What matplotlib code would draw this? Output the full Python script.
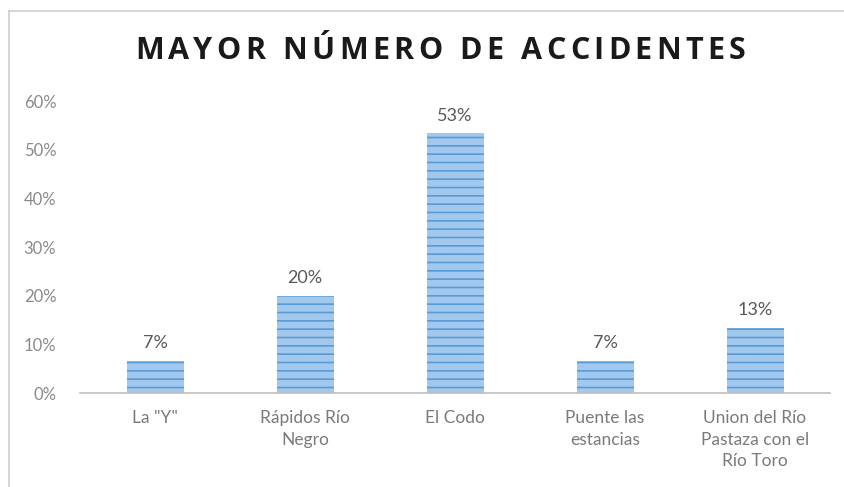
import matplotlib
matplotlib.use("Agg")
from matplotlib import pyplot as plt
from matplotlib.lines import Line2D

categories = ['La "Y"', 'Rápidos Río\nNegro', 'El Codo', 'Puente las\nestancias', 'Union del Río\nPastaza con el\nRío Toro']
values = [6.67, 20.0, 53.33, 6.67, 13.33]
labels = ['7%', '20%', '53%', '7%', '13%']
yticks = [0, 10, 20, 30, 40, 50, 60]
title = 'MAYOR NÚMERO DE ACCIDENTES'

plt.rcParams['font.family'] = ['Lato', 'DejaVu Sans']
plt.rcParams['hatch.linewidth'] = 1.2

W, H = 844, 487
fig = plt.figure(figsize=(W/100, H/100), dpi=100)
ax = fig.add_axes([80/W, 1-393/H, 750/W, 292/H])

x = range(len(categories))
bars = ax.bar(x, values, width=0.38, color='#a3c8ee', edgecolor='#5b9bd5',
              hatch='--', linewidth=0)
for b, lab in zip(bars, labels):
    ax.text(b.get_x() + b.get_width()/2, b.get_height() + 2.0, lab,
            ha='center', va='bottom', fontsize=13, color='#595959')

ax.set_xlim(-0.5, len(categories) - 0.5)
ax.set_ylim(0, 60)
ax.set_yticks(yticks)
ax.set_yticklabels([f'{t}%' for t in yticks], fontsize=12, color='#8a8a8a')
ax.set_xticks(list(x))
ax.set_xticklabels(categories, fontsize=12.5, color='#7a7a7a', linespacing=1.45, va='top')
ax.tick_params(axis='x', length=0, pad=12)
ax.tick_params(axis='y', length=0, pad=17)
for s in ['top', 'right', 'left']:
    ax.spines[s].set_visible(False)
ax.spines['bottom'].set_color('#bfbfbf')
ax.spines['bottom'].set_linewidth(1.2)

# title with letter spacing: place characters one by one
renderer = fig.canvas.get_renderer()
tsize = 22
tfont = ['Open Sans', 'DejaVu Sans']
widths = []
for ch in title:
    t = fig.text(0, 0, ch if ch != ' ' else 'n', fontsize=tsize, fontweight='bold', family=tfont)
    w = t.get_window_extent(renderer).width
    widths.append(w * 0.45 if ch == ' ' else w)
    t.remove()
left_px, right_px = 135, 745
track = (right_px - left_px - sum(widths)) / (len(title) - 1)
pos = left_px
for ch, w in zip(title, widths):
    if ch != ' ':
        fig.text(pos / W, 1 - 51/H, ch, fontsize=tsize, fontweight='bold', family=tfont,
                 color='#1a1a1a', ha='left', va='center')
    pos += w + track

# chart border
fig.add_artist(Line2D([9/W, 1], [1-11/H, 1-11/H], color='#d0d0d0', lw=1.2))
fig.add_artist(Line2D([9/W, 9/W], [0, 1-11/H], color='#d0d0d0', lw=1.2))

plt.savefig('out.png', dpi=100)
